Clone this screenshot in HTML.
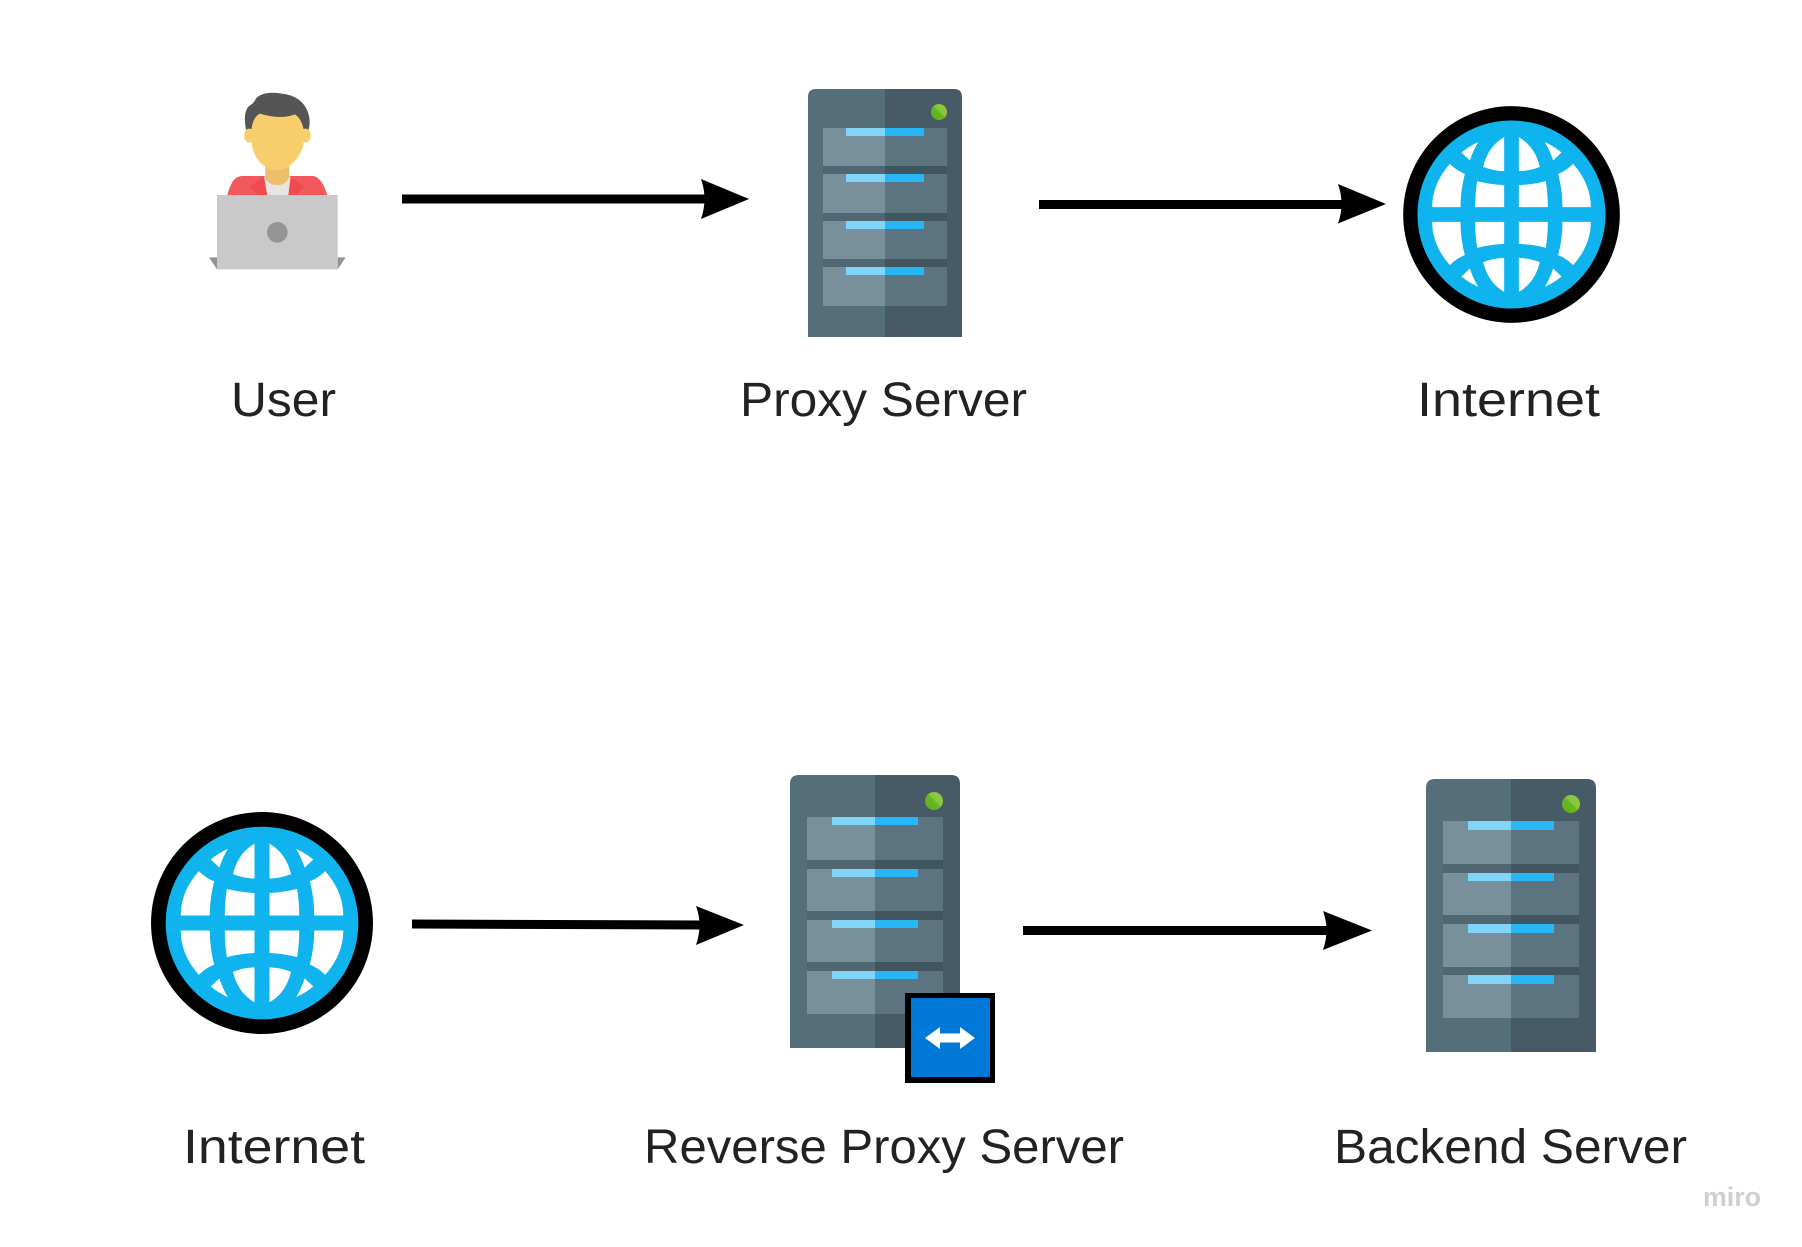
<!DOCTYPE html>
<html lang="en">
<head>
<meta charset="utf-8">
<title>Proxy and Reverse Proxy Diagram</title>
<style>
html,body{margin:0;padding:0;background:#fff;width:1802px;height:1247px;overflow:hidden}
svg{display:block}
text{font-family:"Liberation Sans",sans-serif;font-size:48px;fill:#222}
</style>
</head>
<body>
<svg width="1802" height="1247" viewBox="0 0 1802 1247" xmlns="http://www.w3.org/2000/svg">
<defs>
  <linearGradient id="led" x1="0" y1="1" x2="1" y2="0"><stop offset="0" stop-color="#5DB01A"/><stop offset="0.5" stop-color="#66B820"/><stop offset="0.55" stop-color="#86C63C"/><stop offset="1" stop-color="#8FCB45"/></linearGradient>
  <g id="q">
    <path d="M-22 -232 Q-70 -205 -85 -143 Q-55 -131 -22 -130 Z"/>
    <path d="M-100 -217 Q-127 -205 -150 -186 L-125 -162 Q-115 -192 -100 -217 Z"/>
    <path d="M-185 -152 Q-238 -92 -238 -22 L-153 -22 Q-153 -72 -140 -122 Q-165 -132 -185 -152 Z"/>
    <path d="M-103 -100 Q-65 -90 -22 -88 L-22 -22 L-109 -22 Q-109 -62 -103 -100 Z"/>
  </g>
  <g id="globe">
    <circle r="325" fill="#000"/>
    <circle r="282" fill="#0FB4EE"/>
    <g fill="#fff">
      <use href="#q"/>
      <use href="#q" transform="scale(-1,1)"/>
      <use href="#q" transform="scale(1,-1)"/>
      <use href="#q" transform="scale(-1,-1)"/>
    </g>
  </g>
</defs>

<rect width="1802" height="1247" fill="#fff"/>

<!-- User -->
<g transform="translate(180,70) scale(0.33333)">
  <path d="M142 375 Q155 320 185 318 L400 318 Q425 322 442 375 Z" fill="#F2595C"/>
  <path d="M210 350 L250 320 L262 375 L235 375 Z" fill="#EE4A50"/>
  <path d="M372 350 L332 320 L322 375 L350 375 Z" fill="#EE4A50"/>
  <path d="M252 320 L332 320 L325 375 L262 375 Z" fill="#E9E4E2"/>
  <path d="M256 280 L328 280 L328 320 Q320 345 291 345 Q262 345 256 320 Z" fill="#EDBE6B"/>
  <path d="M198 180 Q188 125 207 108 Q222 100 228 85 Q250 63 300 70 Q368 76 385 130 Q393 155 385 182 L360 200 L225 200 Z" fill="#555"/>
  <ellipse cx="208" cy="197" rx="16" ry="21" fill="#F8CE6D"/>
  <ellipse cx="376" cy="197" rx="16" ry="21" fill="#F8CE6D"/>
  <path d="M213 190 Q216 142 240 131 Q300 150 345 133 Q370 150 373 195 Q373 240 347 270 Q320 300 291 300 Q258 300 234 270 Q212 240 213 190 Z" fill="#F8CE6D"/>
  <polygon points="87,562 111,562 111,598" fill="#8F9499"/>
  <polygon points="497,562 473,562 473,598" fill="#8F9499"/>
  <rect x="111" y="375" width="362" height="223" fill="#C9C9C9"/>
  <circle cx="292" cy="487" r="31" fill="#959595"/>
</g>

<!-- Server 1: Proxy -->
<path d="M808 337 V97 Q808 89 816 89 H885 V337 Z" fill="#546E7A"/>
<path d="M885 89 H954 Q962 89 962 97 V337 H885 Z" fill="#465B66"/>
<rect x="823" y="128" width="62" height="178" fill="#4F6773"/>
<rect x="885" y="128" width="62" height="178" fill="#41555F"/>
<g fill="#78909C">
  <rect x="823" y="128" width="62" height="38"/><rect x="823" y="174" width="62" height="39"/>
  <rect x="823" y="221" width="62" height="38"/><rect x="823" y="267" width="62" height="39"/>
</g>
<g fill="#5C7480">
  <rect x="885" y="128" width="62" height="38"/><rect x="885" y="174" width="62" height="39"/>
  <rect x="885" y="221" width="62" height="38"/><rect x="885" y="267" width="62" height="39"/>
</g>
<g fill="#81D4FA">
  <rect x="846" y="128" width="39" height="8"/><rect x="846" y="174" width="39" height="8"/>
  <rect x="846" y="221" width="39" height="8"/><rect x="846" y="267" width="39" height="8"/>
</g>
<g fill="#29B6F6">
  <rect x="885" y="128" width="39" height="8"/><rect x="885" y="174" width="39" height="8"/>
  <rect x="885" y="221" width="39" height="8"/><rect x="885" y="267" width="39" height="8"/>
</g>
<circle cx="939" cy="112" r="8" fill="url(#led)"/>

<!-- Globe top -->
<use href="#globe" transform="translate(1511.500,214.500) scale(0.33333)"/>

<!-- Server 2: Reverse Proxy -->
<path d="M790 1048 V784 Q790 775 799 775 H875 V1048 Z" fill="#546E7A"/>
<path d="M875 775 H951 Q960 775 960 784 V1048 H875 Z" fill="#465B66"/>
<rect x="807" y="817" width="68" height="197" fill="#4F6773"/>
<rect x="875" y="817" width="68" height="197" fill="#41555F"/>
<g fill="#78909C">
  <rect x="807" y="817" width="68" height="43"/><rect x="807" y="869" width="68" height="42"/>
  <rect x="807" y="920" width="68" height="42"/><rect x="807" y="971" width="68" height="43"/>
</g>
<g fill="#5C7480">
  <rect x="875" y="817" width="68" height="43"/><rect x="875" y="869" width="68" height="42"/>
  <rect x="875" y="920" width="68" height="42"/><rect x="875" y="971" width="68" height="43"/>
</g>
<g fill="#81D4FA">
  <rect x="832" y="817" width="43" height="8"/><rect x="832" y="869" width="43" height="8"/>
  <rect x="832" y="920" width="43" height="8"/><rect x="832" y="971" width="43" height="8"/>
</g>
<g fill="#29B6F6">
  <rect x="875" y="817" width="43" height="8"/><rect x="875" y="869" width="43" height="8"/>
  <rect x="875" y="920" width="43" height="8"/><rect x="875" y="971" width="43" height="8"/>
</g>
<circle cx="934" cy="801" r="9" fill="url(#led)"/>
<rect x="905" y="993" width="90" height="90" fill="#000"/>
<rect x="911" y="998" width="79" height="79" fill="#0078D7"/>
<polygon points="925,1038 940,1027 940,1033.500 960,1033.500 960,1027 975,1038 960,1049 960,1042.500 940,1042.500 940,1049" fill="#fff"/>

<!-- Server 3: Backend -->
<path d="M1426 1052 V788 Q1426 779 1435 779 H1511 V1052 Z" fill="#546E7A"/>
<path d="M1511 779 H1587 Q1596 779 1596 788 V1052 H1511 Z" fill="#465B66"/>
<rect x="1443" y="821" width="68" height="197" fill="#4F6773"/>
<rect x="1511" y="821" width="68" height="197" fill="#41555F"/>
<g fill="#78909C">
  <rect x="1443" y="821" width="68" height="43"/><rect x="1443" y="873" width="68" height="42"/>
  <rect x="1443" y="924" width="68" height="43"/><rect x="1443" y="975" width="68" height="43"/>
</g>
<g fill="#5C7480">
  <rect x="1511" y="821" width="68" height="43"/><rect x="1511" y="873" width="68" height="42"/>
  <rect x="1511" y="924" width="68" height="43"/><rect x="1511" y="975" width="68" height="43"/>
</g>
<g fill="#81D4FA">
  <rect x="1468" y="821" width="43" height="9"/><rect x="1468" y="873" width="43" height="8"/>
  <rect x="1468" y="924" width="43" height="9"/><rect x="1468" y="975" width="43" height="9"/>
</g>
<g fill="#29B6F6">
  <rect x="1511" y="821" width="43" height="9"/><rect x="1511" y="873" width="43" height="8"/>
  <rect x="1511" y="924" width="43" height="9"/><rect x="1511" y="975" width="43" height="9"/>
</g>
<circle cx="1571" cy="804" r="9" fill="url(#led)"/>

<!-- Globe bottom -->
<use href="#globe" transform="translate(262,923) scale(0.3415)"/>

<!-- Arrows -->
<g fill="#000">
  <rect x="402" y="194.500" width="304" height="9"/>
  <path d="M701 179 L749 199 L701 219 Q708 199 701 179 Z"/>
  <rect x="1039" y="200" width="304" height="9"/>
  <path d="M1338 184 L1386 204 L1338 223.500 Q1345 204 1338 184 Z"/>
  <polygon points="412,919.500 702,920.500 702,929.500 412,928.500"/>
  <path d="M696 906 L744 925 L696 945 Q703 925 696 906 Z"/>
  <rect x="1023" y="926" width="305" height="9"/>
  <path d="M1323 911 L1372 930.500 L1323 950 Q1330 930 1323 911 Z"/>
</g>

<!-- Labels -->
<text x="231" y="416" textLength="105" lengthAdjust="spacingAndGlyphs">User</text>
<text x="740" y="416" textLength="287" lengthAdjust="spacingAndGlyphs">Proxy Server</text>
<text x="1417" y="416" textLength="183" lengthAdjust="spacingAndGlyphs">Internet</text>
<text x="183" y="1163" textLength="182" lengthAdjust="spacingAndGlyphs">Internet</text>
<text x="644" y="1163" textLength="480" lengthAdjust="spacingAndGlyphs">Reverse Proxy Server</text>
<text x="1334" y="1163" textLength="353" lengthAdjust="spacingAndGlyphs">Backend Server</text>
<text x="1703" y="1206" textLength="58" lengthAdjust="spacingAndGlyphs" style="font-size:27px;font-weight:bold;fill:#cfcfcf">miro</text>
</svg>
</body>
</html>
